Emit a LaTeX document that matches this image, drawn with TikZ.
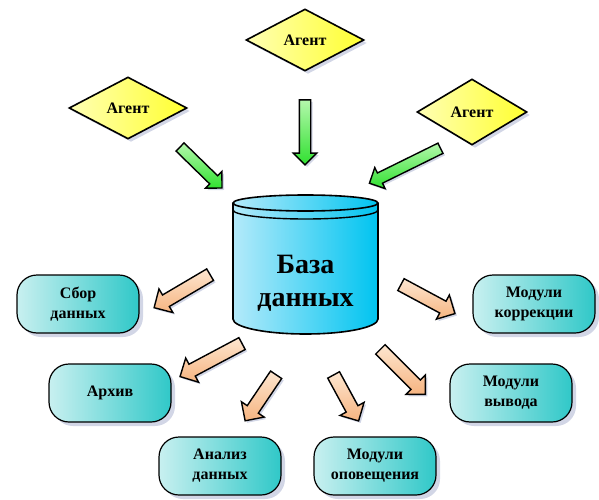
\documentclass[tikz,border=0pt]{standalone}
\usepackage{fontspec}
\setmainfont{Liberation Serif}
\usetikzlibrary{shapes.geometric,shapes.arrows,shadows,calc}

\definecolor{agentlight}{HTML}{FFFFB4}
\definecolor{agentdark}{HTML}{FFFF30}
\definecolor{boxlight}{HTML}{C8F0F0}
\definecolor{boxdark}{HTML}{30C8C8}
\definecolor{dblight}{HTML}{B4EAFA}
\definecolor{dbmid}{HTML}{10CAF8}
\definecolor{dbdark}{HTML}{00C4F0}
\definecolor{inlight}{HTML}{B4F8AC}
\definecolor{indark}{HTML}{30E030}
\definecolor{outlight}{HTML}{FDE6D0}
\definecolor{outdark}{HTML}{F6B480}
\definecolor{shadowcol}{HTML}{D2D6E6}

\tikzset{
	agent/.style={diamond, draw, line width=1.6pt, aspect=1.9, inner sep=0pt,
		minimum width=118pt, minimum height=62pt,
		left color=agentlight, right color=agentdark,
		drop shadow={fill=shadowcol, opacity=1, shadow xshift=3pt, shadow yshift=-3pt},
		font=\bfseries\fontsize{16}{19}\selectfont},
	module/.style={rectangle, rounded corners=20pt, draw, line width=1.2pt,
		minimum width=122pt, minimum height=58pt, align=center,
		left color=boxlight, right color=boxdark,
		drop shadow={fill=shadowcol, opacity=1, shadow xshift=4pt, shadow yshift=-4pt},
		font=\bfseries\fontsize{16}{20}\selectfont},
	inarrow/.style={single arrow, draw, line width=1.4pt, inner xsep=0pt, inner ysep=5pt,
		single arrow head extend=6pt,
		top color=inlight, bottom color=indark,
		drop shadow={fill=shadowcol, opacity=1, shadow xshift=2pt, shadow yshift=-2pt}},
	outarrow/.style={single arrow, draw, line width=1.4pt, inner xsep=0pt, inner ysep=6pt,
		single arrow head extend=7pt,
		top color=outlight, bottom color=outdark,
		drop shadow={fill=shadowcol, opacity=1, shadow xshift=2pt, shadow yshift=-2pt}},
	dbtext/.style={align=center, font=\bfseries\fontsize{28}{33}\selectfont}
}

% block arrow from tail to tip
\newcommand\flowarrow[4]{%
	\path let \p1=(#3), \p2=(#4), \n1={atan2(\y2-\y1,\x2-\x1)},
		\n2={veclen(\x2-\x1,\y2-\y1)} in
		node[#1, rotate=\n1, minimum height=\n2] (#2) at ($(\p1)!.5!(\p2)$) {};}

\begin{document}
\begin{tikzpicture}[x=1pt, y=-1pt]
	\useasboundingbox (0,0) rectangle (599,500);
	
	% agents -------------------------------------------------
	\node[agent] (agtop)   at (305,40)  {Агент};
	\node[agent] (agleft)  at (128,108) {Агент};
	\node[agent, minimum width=110pt, minimum height=66pt] (agright) at (472,112) {Агент};
	
	% database -----------------------------------------------
	\fill[left color=dblight, middle color=dbmid, right color=dbdark]
		(233,203) -- (233,319) arc[start angle=180, end angle=0, x radius=72.5, y radius=15]
		-- (378,203) -- cycle;
	\draw[line width=1.6pt]
		(233,203) -- (233,319) arc[start angle=180, end angle=0, x radius=72.5, y radius=15]
		-- (378,203);
	\draw[line width=1.4pt] (233,210) arc[start angle=180, end angle=0, x radius=72.5, y radius=9];
	\draw[line width=1.6pt, left color=dblight, middle color=dbmid, right color=dbdark]
		(305.5,203) ellipse[x radius=72.5, y radius=8];
	\node[dbtext] (db) at (305.5,283) {База\\данных};
	
	% modules ------------------------------------------------
	\node[module] (sbor)   at (78,304)  {Сбор\\данных};
	\node[module] (arhiv)  at (110,393) {Архив};
	\node[module] (analiz) at (220,466) {Анализ\\данных};
	\node[module] (opov)   at (375,466) {Модули\\оповещения};
	\node[module] (korr)   at (534,304) {Модули\\коррекции};
	\node[module] (vyvod)  at (511,393) {Модули\\вывода};
	
	% arrow ends ---------------------------------------------
	\coordinate (g1t) at (305,97);  \coordinate (g1h) at (305,162);
	\coordinate (g2t) at (178,145); \coordinate (g2h) at (220,186);
	\coordinate (g3t) at (443,147); \coordinate (g3h) at (372,182);
	
	\coordinate (o1t) at (213,273); \coordinate (o1h) at (157,306);
	\coordinate (o2t) at (245,342); \coordinate (o2h) at (183,375);
	\coordinate (o3t) at (278,372); \coordinate (o3h) at (247,418);
	\coordinate (o4t) at (332,372); \coordinate (o4h) at (357,418);
	\coordinate (o5t) at (378,347); \coordinate (o5h) at (423,392);
	\coordinate (o6t) at (398,283); \coordinate (o6h) at (452,312);
	
	% arrows -------------------------------------------------
	\flowarrow{inarrow}{ga1}{g1t}{g1h}
	\flowarrow{inarrow}{ga2}{g2t}{g2h}
	\flowarrow{inarrow}{ga3}{g3t}{g3h}
	
	\flowarrow{outarrow}{oa1}{o1t}{o1h}
	\flowarrow{outarrow}{oa2}{o2t}{o2h}
	\flowarrow{outarrow}{oa3}{o3t}{o3h}
	\flowarrow{outarrow}{oa4}{o4t}{o4h}
	\flowarrow{outarrow}{oa5}{o5t}{o5h}
	\flowarrow{outarrow}{oa6}{o6t}{o6h}
\end{tikzpicture}
\end{document}
